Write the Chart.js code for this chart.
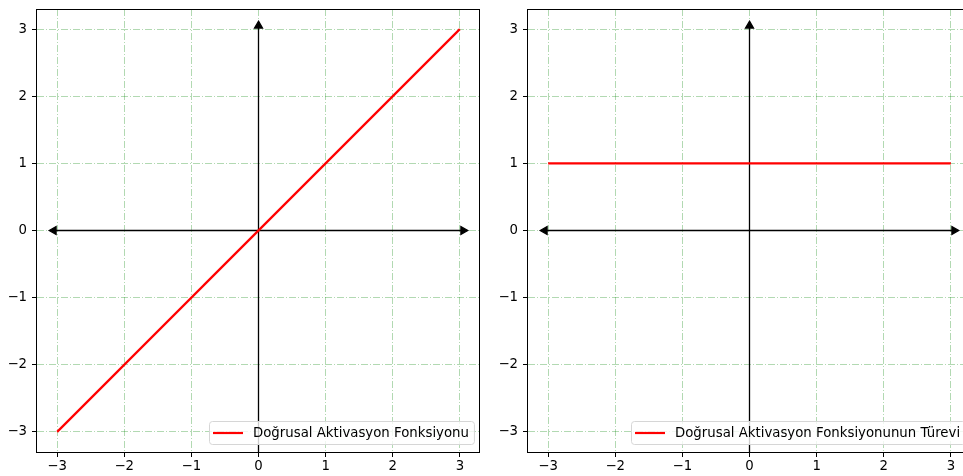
<!DOCTYPE html>
<html lang="tr">
<head>
<meta charset="UTF-8">
<title>Doğrusal Aktivasyon Fonksiyonu</title>
<script src="https://cdn.jsdelivr.net/npm/chart.js"></script>
<style>
  html, body { margin: 0; padding: 0; background: #fff; overflow: hidden; width: 963px; height: 476px; }
  canvas { position: absolute; top: 0; }
  #left { left: 0; }
  #right { left: 491px; }
</style>
</head>
<body>
<canvas id="left" width="490" height="476"></canvas>
<canvas id="right" width="490" height="476"></canvas>
<script>
// data
const lineX = [-3, 3];
const linearY = [-3, 3];       // f(x) = x
const derivY = [1, 1];         // f'(x) = 1
const tickVals = [-3, -2, -1, 0, 1, 2, 3];
const axisMin = -3.3, axisMax = 3.3;

// axis arrows (x, y)
const arrowHX = [-3.05, 3.05], arrowHY = [0, 0];
const arrowVX = [0, 0], arrowVY = [-3.6, 3.05];

const labelLeft = 'Doğrusal Aktivasyon Fonksiyonu';
const labelRight = 'Doğrusal Aktivasyon Fonksiyonunun Türevi';

Chart.defaults.font.family = '"DejaVu Sans", sans-serif';
Chart.defaults.font.size = 13.3;
Chart.defaults.color = '#000';

const fmt = v => v < 0 ? '\u2212' + Math.abs(v) : String(v);
const pts = (xs, ys) => xs.map((x, i) => ({ x: x, y: ys[i] }));

// matplotlib-like frame around the plot area
const framePlugin = {
  id: 'frame',
  afterDatasetsDraw(chart) {
    const { ctx, chartArea: a } = chart;
    ctx.save();
    ctx.strokeStyle = '#000';
    ctx.lineWidth = 1;
    ctx.strokeRect(a.left - 0.5, a.top + 0.5, a.right - a.left, a.bottom - a.top);
    ctx.restore();
  }
};

// legend box in the lower right corner
const boxLegend = {
  id: 'boxLegend',
  afterDraw(chart) {
    const ds = chart.data.datasets[0];
    const { ctx, chartArea: a } = chart;
    ctx.save();
    ctx.font = '13.3px "DejaVu Sans"';
    const tw = ctx.measureText(ds.label).width;
    const w = 44 + tw + 5, h = 23;
    const x = Math.round(a.right - 6 - w), y = Math.round(a.bottom - 8 - h);
    ctx.beginPath();
    ctx.roundRect(x + 0.5, y + 0.5, w, h, 3);
    ctx.fillStyle = 'rgba(255,255,255,0.8)';
    ctx.fill();
    ctx.strokeStyle = '#d6d6d6';
    ctx.lineWidth = 1;
    ctx.stroke();
    ctx.beginPath();
    ctx.moveTo(x + 4, y + h / 2 + 0.5);
    ctx.lineTo(x + 34, y + h / 2 + 0.5);
    ctx.strokeStyle = ds.borderColor;
    ctx.lineWidth = 2.2;
    ctx.stroke();
    ctx.fillStyle = '#000';
    ctx.textBaseline = 'middle';
    ctx.fillText(ds.label, x + 44, y + h / 2 + 1);
    ctx.restore();
  }
};

function axis(isX) {
  return {
    type: 'linear',
    min: axisMin,
    max: axisMax,
    afterBuildTicks: s => { s.ticks = tickVals.map(v => ({ value: v })); },
    afterFit: s => {
      if (isX) { s.height = 24; s.paddingLeft = 0; s.paddingRight = 0; }
      else { s.width = 37; s.paddingTop = 0; s.paddingBottom = 0; }
    },
    ticks: { callback: fmt, padding: isX ? 2 : 5, autoSkip: false, maxRotation: 0 },
    grid: {
      color: 'rgba(0,128,0,0.3)',
      lineWidth: 1,
      tickColor: '#000',
      tickLength: 5,
      tickWidth: 1
    },
    border: { display: false, dash: [7, 2, 1, 2] }
  };
}

function makeChart(id, ys, label) {
  new Chart(document.getElementById(id), {
    type: 'scatter',
    data: {
      datasets: [
        {
          label: label,
          data: pts(lineX, ys),
          showLine: true,
          borderColor: '#ff0000',
          borderWidth: 2.2,
          pointRadius: 0,
          order: 0
        },
        {
          label: 'xaxis',
          data: pts(arrowHX, arrowHY),
          showLine: true,
          borderColor: '#000',
          backgroundColor: '#000',
          borderWidth: 1.3,
          pointStyle: 'triangle',
          pointRadius: 4.6,
          pointRotation: [-90, 90],
          order: 1
        },
        {
          label: 'yaxis',
          data: pts(arrowVX, arrowVY),
          showLine: true,
          borderColor: '#000',
          backgroundColor: '#000',
          borderWidth: 1.3,
          pointStyle: 'triangle',
          pointRadius: [0, 4.6],
          pointRotation: 0,
          order: 2
        }
      ]
    },
    options: {
      responsive: false,
      animation: false,
      layout: { padding: { top: 9, right: 10, left: 0, bottom: 0 } },
      plugins: { legend: { display: false }, tooltip: { enabled: false } },
      scales: { x: axis(true), y: axis(false) }
    },
    plugins: [framePlugin, boxLegend]
  });
}

makeChart('left', linearY, labelLeft);
makeChart('right', derivY, labelRight);
</script>
</body>
</html>
